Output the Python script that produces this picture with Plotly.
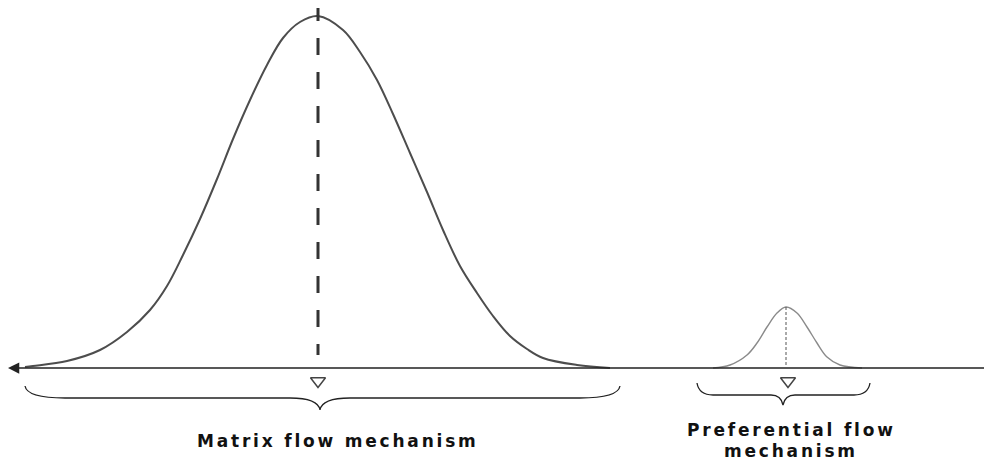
import plotly.graph_objects as go

# ---- data (x = position along the axis, y = height above the axis) ----
matrix_x = [25, 33, 67, 100, 127, 150, 167, 183, 200, 217, 233, 250, 267, 283, 300, 318,
            343, 360, 377, 393, 410, 427, 443, 460, 477, 493, 510, 527, 543, 577, 610]
matrix_y = [1, 2, 7, 18, 36, 58, 82, 113, 149, 189, 229, 268, 303, 330, 346, 352,
            338, 316, 288, 254, 215, 176, 138, 102, 75, 52, 32, 19, 10, 3, 0]

pref_x = [713, 730, 747, 757, 767, 777, 786, 797, 807, 817, 827, 840, 862]
pref_y = [0, 3, 13, 25, 41, 55, 61, 55, 41, 25, 11, 3, 0]

peak_x = [318, 786]          # mode positions
peak_top = [364, 61]         # top of the vertical marker lines
marker_x = [318, 788]        # triangles under the modes
brace_left = [25, 697]
brace_right = [620, 870]
brace_tip = [320, 783]
labels = ["Matrix flow mechanism", "Preferential flow", "mechanism"]
label_x = [338, 791, 791]

AX_MIN, AX_MAX = 8, 989

fig = go.Figure()

# curves
fig.add_trace(go.Scatter(x=matrix_x, y=matrix_y, mode="lines",
                         line=dict(color="#4d4d4d", width=2, shape="spline", smoothing=1.0),
                         hoverinfo="skip", showlegend=False))
fig.add_trace(go.Scatter(x=pref_x, y=pref_y, mode="lines",
                         line=dict(color="#8a8a8a", width=1.4, shape="spline", smoothing=1.0),
                         hoverinfo="skip", showlegend=False))

# vertical lines at the peaks
fig.add_trace(go.Scatter(x=[peak_x[0], peak_x[0]], y=[peak_top[0], 13], mode="lines",
                         line=dict(color="#333333", width=3, dash="17px,17px"),
                         hoverinfo="skip", showlegend=False, cliponaxis=False))
fig.add_trace(go.Scatter(x=[peak_x[1], peak_x[1]], y=[peak_top[1], 1], mode="lines",
                         line=dict(color="#555555", width=1, dash="3px,2px"),
                         hoverinfo="skip", showlegend=False))

# triangles
fig.add_trace(go.Scatter(x=marker_x, y=[-13, -13], mode="markers",
                         marker=dict(symbol="triangle-down-open", size=13,
                                     color="#444444", line=dict(width=1.5, color="#444444")),
                         hoverinfo="skip", showlegend=False))

# horizontal axis with left arrow and right end block
fig.add_annotation(x=AX_MIN, y=0, ax=AX_MAX, ay=0, xref="x", yref="y", axref="x", ayref="y",
                   text="", showarrow=True, arrowhead=2, arrowsize=1.5, arrowwidth=1.5,
                   arrowcolor="#222222")
fig.add_shape(type="rect", x0=AX_MAX - 1, x1=AX_MAX + 3, y0=-4, y1=3,
              xref="x", yref="y", fillcolor="#111111", line=dict(width=0))

# curly braces
def brace_path(L, R, T, yE, yM, yT, hook, dip):
    return (f"M {L},{yE} Q {L+2},{yM} {L+hook},{yM} L {T-dip},{yM} "
            f"Q {T-2},{yM} {T},{yT} Q {T+2},{yM} {T+dip},{yM} "
            f"L {R-hook},{yM} Q {R-2},{yM} {R},{yE}")

fig.add_shape(type="path", xref="x", yref="y",
              path=brace_path(brace_left[0], brace_right[0], brace_tip[0], -18, -30, -42, 40, 30),
              line=dict(color="#222222", width=1.3))
fig.add_shape(type="path", xref="x", yref="y",
              path=brace_path(brace_left[1], brace_right[1], brace_tip[1], -15, -27, -37, 16, 12),
              line=dict(color="#222222", width=1.3))

# labels
def spaced(t):
    return f'<span style="letter-spacing:2.8px">{t}</span>'

font = dict(family="DejaVu Sans", size=17, color="#111111")
fig.add_annotation(x=label_x[0], y=-73, xref="x", yref="y", text="<b>" + spaced(labels[0]) + "</b>",
                   showarrow=False, font=font, xanchor="center", yanchor="middle")
fig.add_annotation(x=label_x[1], y=-62, xref="x", yref="y", text="<b>" + spaced(labels[1]) + "</b>",
                   showarrow=False, font=font, xanchor="center", yanchor="middle")
fig.add_annotation(x=label_x[2], y=-83, xref="x", yref="y", text="<b>" + spaced(labels[2]) + "</b>",
                   showarrow=False, font=font, xanchor="center", yanchor="middle")

# the page body has an 8px margin, so the figure starts at (8, 8) in the window
fig.update_layout(
    width=984, height=458,
    margin=dict(l=0, r=0, t=0, b=0),
    paper_bgcolor="white", plot_bgcolor="white",
    xaxis=dict(range=[8, 992], visible=False, fixedrange=True),
    yaxis=dict(range=[-98, 360], visible=False, fixedrange=True),
    showlegend=False,
)

fig.write_html("out.html")
